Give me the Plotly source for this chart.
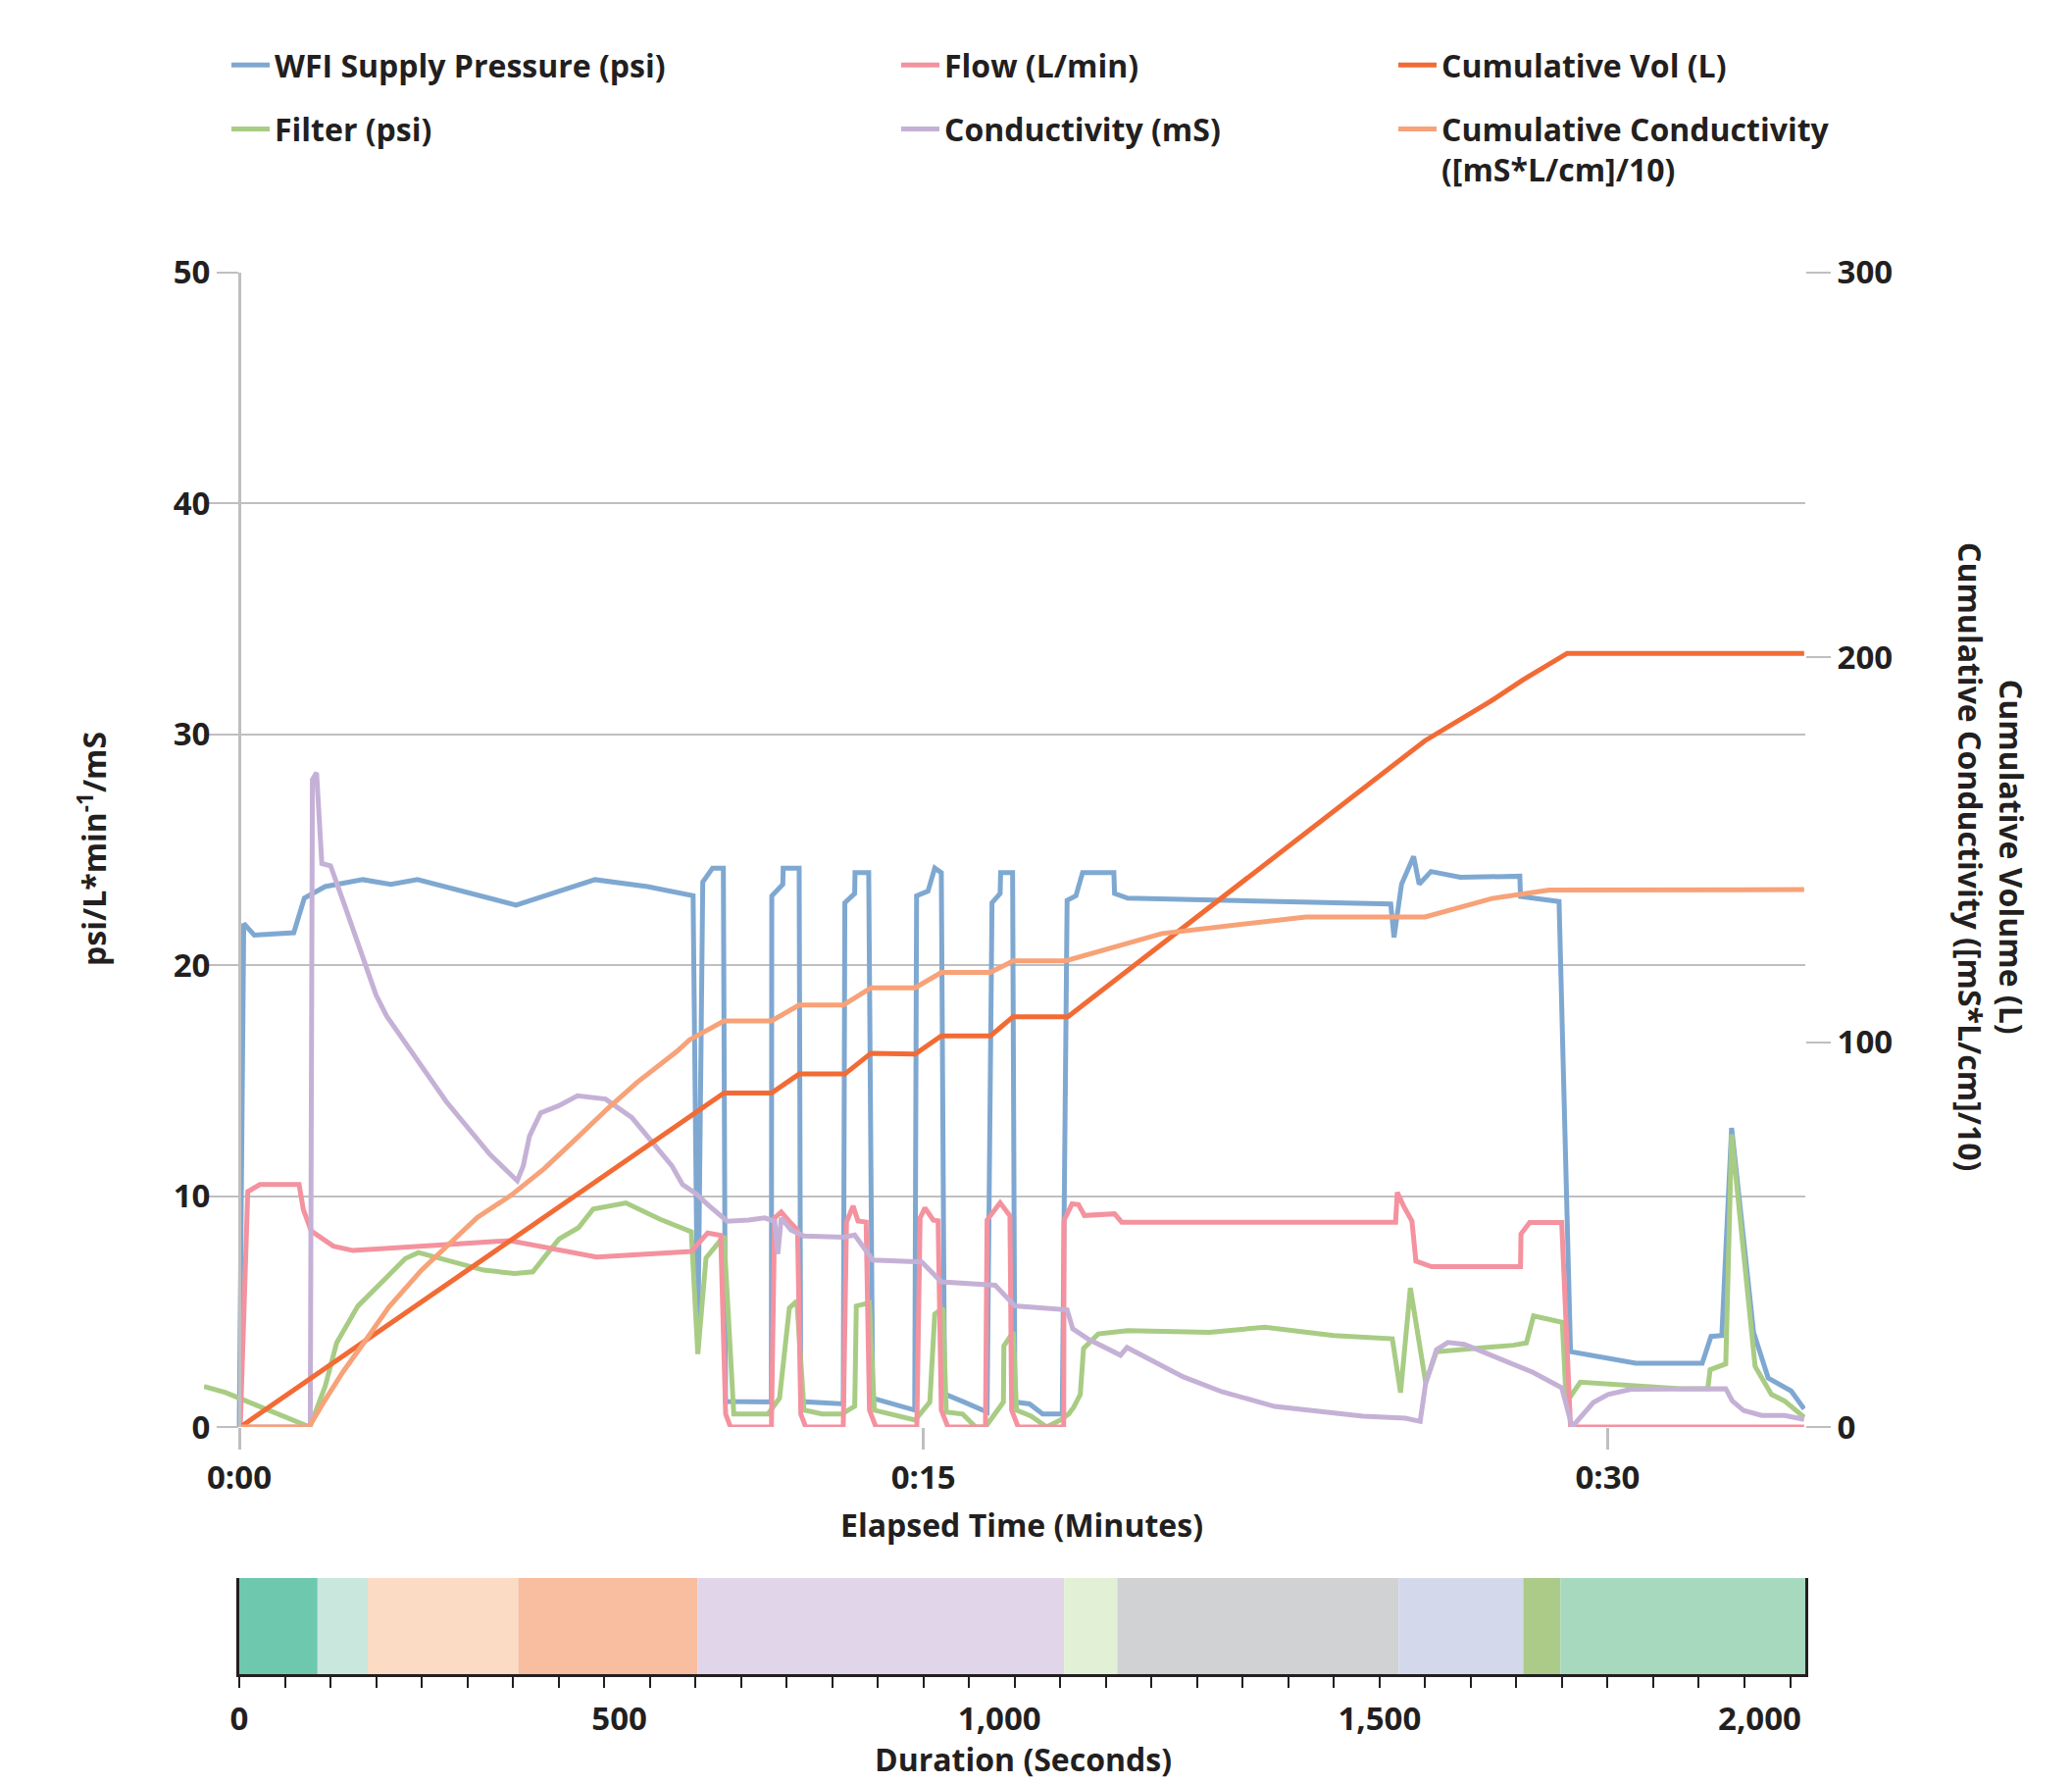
import plotly.graph_objects as go

# ---------------- data (time in seconds) ----------------
wfi_t = [0, 5.9, 19.7, 71.7, 85.6, 113, 162.5, 199.4, 234.4, 364.2, 468, 537, 597,
         603.2, 609.7, 622.6, 636.8, 639.7, 699.9, 700.5, 715, 715.5, 736.5, 738.6,
         794.5, 796.6, 809.5, 810, 828, 833.2, 888.5, 891, 906, 914.9, 923.5, 927.8,
         953.6, 983.7, 990.2, 1000.9, 1001.5, 1017.3, 1020.3, 1039.6, 1056.8, 1082.6,
         1089, 1100.6, 1109.3, 1150.5, 1151.4, 1168.6, 1514.7, 1519, 1528.9, 1544.8,
         1552.1, 1567.6, 1606.2, 1684.5, 1685.4, 1736.1, 1751.2, 1837.2, 1924.4, 1936,
         1950.2, 1963.1, 1992, 2011.2, 2041.4, 2058.5]
wfi_v = [0, 21.8, 21.3, 21.4, 22.9, 23.4, 23.7, 23.5, 23.7, 22.6, 23.7, 23.4, 23.0,
         3.3, 23.6, 24.2, 24.2, 1.1, 1.08, 23.0, 23.5, 24.2, 24.2, 1.1,
         1.0, 22.7, 23.1, 24.0, 24.0, 1.25, 0.73, 23.0, 23.2, 24.2, 24.0, 1.43,
         1.08, 0.65, 22.7, 23.1, 24.0, 24.0, 1.08, 1.0, 0.56, 0.56,
         22.8, 23.0, 24.0, 24.0, 23.1, 22.9, 22.65, 21.2, 23.5, 24.7,
         23.5, 24.05, 23.8, 23.85, 22.97, 22.75, 3.26, 2.76, 2.76, 3.92,
         3.96, 12.95, 4.1, 2.12, 1.56, 0.78]

flow_t = [1.3, 11.2, 27.1, 78.7, 84.3, 94.6, 123.8, 149.6, 356, 469.9, 594.6, 609.7,
          616.1, 633.3, 639.8, 646.2, 700, 704.2, 712.9, 723.6, 734.4, 738.7, 745.1,
          794.5, 798.8, 807.4, 813.9, 824.6, 829, 837.5, 891.3, 895.6, 902, 912.8,
          919.3, 923.5, 932.2, 981.6, 983.7, 1000.9, 1013.8, 1016, 1024.6, 1084.5,
          1085, 1095.5, 1104, 1111.8, 1151.4, 1160.8, 1521.1, 1523.3, 1531.9, 1542.6,
          1547.8, 1568.4, 1685.4, 1686, 1697.4, 1739.6, 1751.2, 2058.5]
flow_v = [0, 10.19, 10.5, 10.5, 9.41, 8.49, 7.83, 7.64, 8.07, 7.36, 7.6, 8.19,
          8.4, 8.3, 0.56, 0, 0, 9.05, 9.31, 8.9, 8.53, 0.56, 0,
          0, 8.87, 9.57, 8.92, 8.87, 0.73, 0, 0, 9.05, 9.49, 8.96,
          8.92, 0.73, 0, 0, 8.96, 9.71, 9.14, 0.73, 0, 0,
          8.96, 9.66, 9.63, 9.16, 9.23, 8.87, 8.87, 10.16, 9.55, 8.92,
          7.18, 6.94, 6.94, 8.35, 8.85, 8.85, 0, 0]

cumvol_t = [1.3, 637.6, 700, 736.5, 796.6, 831, 889, 923.5, 988, 1018, 1090,
            1559.8, 1645.8, 1688.8, 1746.8, 2058.5]
cumvol_v = [0, 86.75, 86.75, 91.7, 91.7, 97.1, 96.9, 101.6, 101.6, 106.6, 106.6,
            178.3, 188.5, 194.1, 201, 201]

filter_t = [-46.4, -18, 92.9, 113.1, 128.1, 156.1, 188.3, 218.4, 235.6, 321.6, 362.4,
            386.1, 420.5, 446.3, 465.6, 508.6, 553.7, 594.6, 603.2, 614, 637.6, 650.5,
            695.6, 710.7, 723.6, 733.5, 742.9, 766.6, 792.4, 809.6, 811.7, 828.9, 835.4,
            889.1, 908.4, 914.9, 925.7, 930, 951.5, 968.6, 981.6, 1005.2, 1005.8, 1018.1,
            1022.4, 1041.8, 1062, 1080, 1091.2, 1097.6, 1106.3, 1110.6, 1129.9, 1168.6,
            1276, 1349.2, 1439.4, 1516.8, 1527.6, 1540.5, 1560.7, 1574.9, 1675.9, 1693.1,
            1702.6, 1740.4, 1745.6, 1764.1, 1895.2, 1931.8, 1934.8, 1955.4, 1963.1, 1994,
            2015.5, 2032.6, 2058.5]
filter_v = [1.76, 1.49, 0, 1.77, 3.64, 5.24, 6.3, 7.29, 7.55, 6.79, 6.65,
            6.72, 8.14, 8.63, 9.44, 9.7, 8.99, 8.45, 3.16, 7.32, 8.27, 0.56,
            0.56, 1.25, 5.15, 5.45, 0.73, 0.56, 0.56, 0.9, 5.24, 5.38, 0.73,
            0.3, 1.08, 4.89, 5.15, 0.65, 0.56, 0, 0, 1.08, 3.51, 4.11,
            0.73, 0.47, 0, 0.3, 0.57, 0.85, 1.41, 3.4, 4.03, 4.17,
            4.1, 4.32, 3.96, 3.82, 1.49, 6.02, 1.91, 3.26, 3.54, 3.64,
            4.81, 4.53, 1.06, 1.94, 1.66, 1.66, 2.48, 2.73, 12.67, 2.62,
            1.41, 1.13, 0.42]

cond_t = [0, 93.4, 96.2, 101.7, 108.6, 120.1, 138.5, 166.2, 180, 193.8, 219.1, 272.1,
          329.7, 365.7, 373.5, 381.8, 396.5, 419.6, 444.9, 481.8, 516.3, 569.3, 583.1,
          601, 618.2, 641.9, 669.8, 691.3, 704.2, 708.5, 712.9, 725.8, 742.9, 794.5,
          809.6, 833.2, 897.7, 923.5, 994.4, 1020.3, 1089, 1096.4, 1117, 1159.2, 1167.8,
          1241.8, 1293.3, 1362.1, 1478.2, 1534, 1553.4, 1560.7, 1574.9, 1589.9, 1611.4,
          1701.7, 1739.6, 1753.3, 1781.2, 1800.6, 1830.7, 1955.4, 1964, 1979, 2002.7,
          2032.7, 2058.5]
cond_v = [0, 0, 28.03, 28.33, 24.4, 24.3, 22.6, 20.0, 18.7, 17.8, 16.6, 14.1,
          11.8, 10.66, 11.3, 12.6, 13.6, 13.9, 14.34, 14.2, 13.4, 11.3, 10.5,
          10.1, 9.57, 8.91, 8.96, 9.05, 8.9, 7.49, 9.05, 8.53, 8.27, 8.22,
          8.31, 7.23, 7.15, 6.28, 6.14, 5.24, 5.07, 4.25, 3.8, 3.11, 3.44,
          2.17, 1.52, 0.89, 0.47, 0.38, 0.24, 1.91, 3.35, 3.66, 3.58,
          2.37, 1.7, 0, 1.06, 1.41, 1.63, 1.66, 1.13, 0.71, 0.5,
          0.5, 0.33]

cumcond_t = [0, 91.6, 110.9, 136.7, 164.7, 196.9, 239.9, 274.3, 313, 358.2, 401.1, 442,
             485, 523.7, 575.3, 592.4, 637.6, 700, 736.5, 794.5, 831, 889, 923.5, 988,
             1018, 1087, 1213.7, 1403, 1559.8, 1648, 1723.2, 2058.5]
cumcond_v = [0, 0, 6.4, 14.4, 22.1, 31.2, 40.8, 47.3, 54.4, 60.3, 67.1, 74.7,
             82.8, 89.6, 97.5, 100.6, 105.5, 105.5, 109.6, 109.6, 114.1, 114.1, 118.1, 118.1,
             121.1, 121.1, 128.2, 132.5, 132.5, 137.3, 139.5, 139.6]

# process phases shown in the duration strip (seconds)
phase_start = [0, 103, 169, 367, 603, 1085, 1155, 1525, 1689, 1738]
phase_end = [103, 169, 367, 603, 1085, 1155, 1525, 1689, 1738, 2060]
phase_colors = ["#6ec8ae", "#c9e7dd", "#fcdbc4", "#f9bda0", "#e1d5e9",
                "#e2f0d5", "#d0d2d3", "#d3d9ea", "#accb88", "#a7d9bf"]

left_ticks = [0, 10, 20, 30, 40, 50]
right_ticks = [0, 100, 200, 300]
time_tickvals = [0, 900, 1800]
time_ticktext = ["0:00", "0:15", "0:30"]
dur_tickvals = [0, 500, 1000, 1500, 2000]
dur_ticktext = ["0", "500", "1,000", "1,500", "2,000"]

# ---------------- layout geometry ----------------
W, H = 2113, 1818
FONT = "Open Sans"
INK = "#231f20"
GRID = "#bfbfc1"

def px(x):
    return x / W

def py(y):
    return 1 - y / H

plot_left, axis_left, plot_right = 208, 244, 1841
main_top, main_bottom = 277.6, 1455
strip_top, strip_bottom = 1609, 1707
t_end = 2060
t_start = -(axis_left - plot_left) / ((plot_right - axis_left) / t_end)

fig = go.Figure()

LW = 5
series = [
    ("WFI Supply Pressure (psi)", wfi_t, wfi_v, "#7fa8d1", "y", "legend", 1),
    ("Filter (psi)", filter_t, filter_v, "#a8cc84", "y", "legend", 2),
    ("Flow (L/min)", flow_t, flow_v, "#f4929f", "y", "legend2", 1),
    ("Conductivity (mS)", cond_t, cond_v, "#c5b1d6", "y", "legend2", 2),
    ("Cumulative Vol (L)", cumvol_t, cumvol_v, "#f26b35", "y2", "legend3", 1),
    ("Cumulative Conductivity<br>([mS*L/cm]/10)", cumcond_t, cumcond_v, "#f7a278", "y2", "legend3", 2),
]
for i, (name, xs, ys, col, yax, leg, rank) in enumerate(series):
    fig.add_trace(go.Scatter(
        x=xs, y=ys, mode="lines", name=name,
        line=dict(color=col, width=LW),
        xaxis="x", yaxis=yax, legend=leg, legendgroup=f"g{i}", legendrank=rank,
        hoverinfo="skip",
    ))

fig.add_trace(go.Bar(
    x=[e - s for s, e in zip(phase_start, phase_end)], base=phase_start,
    y=[0] * len(phase_start), orientation="h", width=1,
    marker=dict(color=phase_colors, line=dict(width=0)),
    xaxis="x2", yaxis="y3", showlegend=False, hoverinfo="skip",
))

tick_font = dict(family=FONT, size=33, color=INK, weight="bold")
legend_common = dict(
    orientation="v", xanchor="left", yanchor="top", bgcolor="rgba(0,0,0,0)",
    font=dict(family=FONT, size=32, color=INK, weight="bold"),
    tracegroupgap=20.5, itemwidth=39, valign="top", traceorder="grouped",
)

fig.update_layout(
    width=W, height=H, autosize=False,
    margin=dict(l=0, r=0, t=0, b=0, pad=0, autoexpand=False),
    paper_bgcolor="white", plot_bgcolor="white",
    font=dict(family=FONT, size=32, color=INK, weight="bold"),
    barmode="overlay",
    xaxis=dict(
        domain=[px(plot_left), px(plot_right)], range=[t_start, t_end], anchor="y",
        tickvals=time_tickvals, ticktext=time_ticktext, tickfont=tick_font,
        ticks="outside", ticklen=22, tickwidth=3, tickcolor=GRID,
        showgrid=False, zeroline=False, showline=False,
    ),
    yaxis=dict(
        domain=[py(main_bottom), py(main_top)], range=[0, 50],
        anchor="free", position=px(axis_left),
        tickvals=left_ticks, tickfont=tick_font,
        ticks="outside", ticklen=22, tickwidth=2, tickcolor=GRID,
        showgrid=True, gridcolor=GRID, gridwidth=2,
        zeroline=False, showline=True, linecolor=GRID, linewidth=3,
    ),
    yaxis2=dict(
        overlaying="y", side="right", anchor="x", range=[0, 300],
        tickvals=right_ticks, tickfont=tick_font,
        ticks="outside", ticklen=25, tickwidth=2, tickcolor=GRID,
        showgrid=False, zeroline=False, showline=False,
    ),
    xaxis2=dict(
        domain=[px(axis_left), px(plot_right)], range=[0, t_end], anchor="y3",
        tickvals=dur_tickvals, ticktext=dur_ticktext, tickfont=tick_font,
        ticks="", ticklabelstandoff=14,
        minor=dict(tick0=0, dtick=60, ticks="outside", ticklen=11,
                   tickwidth=2, tickcolor=INK, showgrid=False),
        showgrid=False, zeroline=False,
        showline=True, linecolor=INK, linewidth=3,
    ),
    yaxis3=dict(
        domain=[py(strip_bottom), py(strip_top)], range=[-0.5, 0.5], anchor="x2",
        showticklabels=False, ticks="", showgrid=False, zeroline=False,
        showline=True, mirror=True, linecolor=INK, linewidth=3,
    ),
    legend=dict(x=px(231), y=py(39), **legend_common),
    legend2=dict(x=px(914), y=py(39), **legend_common),
    legend3=dict(x=px(1421), y=py(39), **legend_common),
)

title_font = dict(family=FONT, size=32, color=INK, weight="bold")
fig.add_annotation(text="Elapsed Time (Minutes)", x=px(1042), y=py(1554),
                   xref="paper", yref="paper", showarrow=False, font=title_font,
                   xanchor="center", yanchor="middle")
fig.add_annotation(text="Duration (Seconds)", x=px(1043), y=py(1817),
                   xref="paper", yref="paper", showarrow=False, font=title_font,
                   xanchor="center", yanchor="bottom")
fig.add_annotation(text="psi/L*min<sup>-1</sup>/mS", x=px(94), y=py(866),
                   xref="paper", yref="paper", showarrow=False, font=title_font,
                   textangle=-90, xanchor="center", yanchor="middle")
fig.add_annotation(text="Cumulative Volume (L)<br>Cumulative Conductivity ([mS*L/cm]/10)",
                   x=px(2031), y=py(873), xref="paper", yref="paper", showarrow=False,
                   font=title_font, textangle=90, xanchor="center", yanchor="middle")

fig.write_html("out.html")
